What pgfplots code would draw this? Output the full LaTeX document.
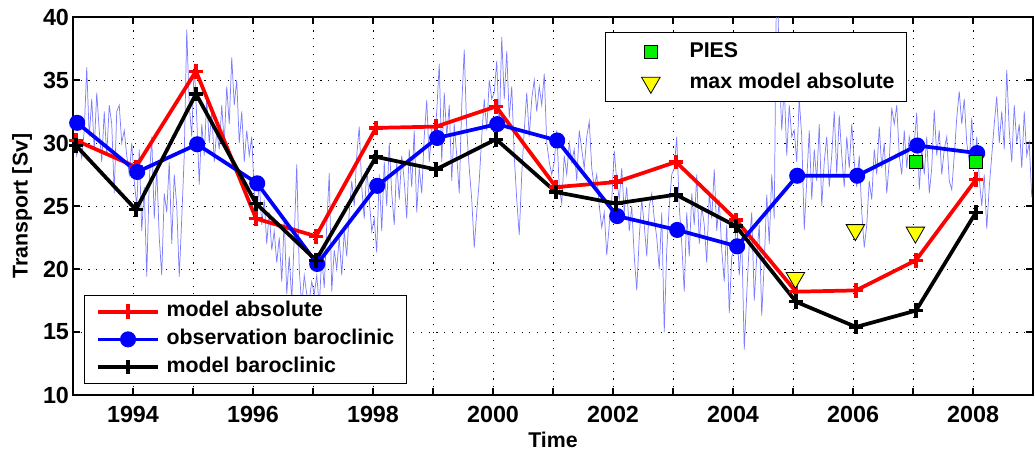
\documentclass[border=0pt]{standalone}
\usepackage{pgfplots}
\pgfplotsset{compat=1.18}
\usepackage{pgfplotstable}
\usepackage{fontspec}
\setmainfont{Liberation Sans}
\definecolor{noiseblue}{RGB}{125,125,255}
\definecolor{piesgreen}{RGB}{0,240,0}
\definecolor{maxyellow}{RGB}{255,255,0}
\tikzset{bigfont/.style={font=\bfseries\fontsize{16}{19}\selectfont},
  tickfont/.style={font=\bfseries\fontsize{17.5}{20}\selectfont}}

\pgfplotstableread{
year abs obs baro
1993 30.2 31.6 29.8
1994 28.1 27.7 24.7
1995 35.7 29.9 33.9
1996 24.0 26.8 25.2
1997 22.6 20.4 20.7
1998 31.2 26.6 28.9
1999 31.3 30.4 27.9
2000 32.9 31.5 30.3
2001 26.5 30.2 26.1
2002 26.9 24.2 25.2
2003 28.5 23.1 25.9
2004 23.9 21.8 23.4
2005 18.2 27.4 17.4
2006 18.3 27.4 15.4
2007 20.7 29.8 16.7
2008 27.1 29.2 24.5
}\yearly

\pgfplotstableread[header=false,row sep=\\]{
30.5\\29.0\\30.0\\28.8\\31.0\\36.0\\30.5\\33.5\\29.5\\34.0\\31.0\\28.5\\32.5\\29.0\\33.0\\31.5\\26.0\\32.5\\33.0\\30.0\\31.0\\29.0\\27.5\\30.0\\
27.0\\25.0\\29.5\\23.0\\26.5\\19.4\\27.0\\30.5\\24.0\\28.0\\22.5\\19.5\\26.0\\24.5\\28.5\\22.0\\27.5\\25.0\\19.4\\24.0\\29.0\\39.0\\33.0\\30.5\\
36.3\\32.0\\26.7\\31.5\\29.0\\33.5\\30.0\\32.5\\28.5\\31.0\\29.5\\33.0\\30.0\\34.5\\31.5\\36.8\\33.0\\35.0\\30.0\\32.5\\28.5\\31.0\\29.0\\30.5\\
26.0\\24.0\\27.0\\23.5\\25.5\\22.0\\24.5\\21.5\\23.0\\20.5\\22.5\\19.0\\24.0\\18.0\\21.0\\17.5\\22.5\\28.3\\20.0\\17.0\\19.5\\18.0\\17.5\\19.0\\
18.0\\19.5\\17.0\\21.0\\18.5\\23.5\\27.6\\18.2\\21.5\\20.0\\22.5\\19.5\\23.0\\21.0\\24.5\\27.0\\25.0\\29.0\\31.3\\26.5\\24.0\\28.0\\25.5\\23.0\\
24.0\\21.3\\27.5\\23.0\\28.5\\25.0\\30.0\\26.0\\23.5\\28.5\\25.5\\29.0\\27.0\\24.0\\29.5\\26.5\\31.0\\24.5\\28.0\\26.0\\30.5\\33.4\\28.5\\31.0\\
30.0\\32.5\\36.3\\28.5\\34.0\\30.5\\33.0\\27.0\\31.5\\29.0\\26.0\\33.0\\37.4\\31.0\\28.0\\25.5\\21.7\\24.5\\27.0\\30.5\\33.5\\31.0\\35.0\\33.5\\
34.0\\36.5\\31.0\\38.4\\33.5\\37.3\\32.0\\34.5\\29.0\\25.5\\22.7\\27.5\\31.0\\34.0\\30.5\\33.5\\35.0\\32.5\\34.5\\33.0\\35.5\\30.0\\28.5\\27.5\\
28.5\\31.0\\26.5\\25.2\\29.0\\27.5\\30.0\\28.5\\29.5\\27.0\\31.0\\29.5\\28.0\\30.5\\31.7\\28.0\\26.5\\27.5\\25.0\\23.3\\24.5\\21.1\\23.5\\25.5\\
29.4\\27.0\\25.5\\28.0\\24.5\\26.5\\23.0\\25.0\\21.0\\18.3\\22.5\\25.5\\23.5\\21.0\\25.0\\26.0\\24.0\\22.5\\20.0\\24.5\\15.0\\21.5\\25.0\\27.5\\
28.0\\30.5\\25.0\\22.0\\18.2\\24.5\\21.0\\26.0\\23.5\\27.5\\22.0\\25.0\\23.5\\20.5\\26.0\\24.0\\27.9\\23.0\\25.5\\21.5\\19.0\\23.5\\16.5\\21.0\\
21.5\\24.0\\19.5\\22.5\\13.6\\18.0\\22.0\\24.5\\17.5\\21.0\\23.5\\16.3\\20.5\\25.9\\22.0\\27.5\\24.0\\45.0\\36.0\\31.0\\34.5\\29.0\\33.0\\30.5\\
31.0\\28.5\\33.5\\30.5\\23.1\\27.0\\31.0\\25.5\\29.5\\27.0\\31.5\\25.0\\28.5\\30.5\\26.5\\29.0\\32.5\\27.5\\32.2\\29.0\\26.5\\30.5\\28.0\\31.5\\
28.5\\26.5\\29.0\\24.5\\21.7\\23.5\\27.0\\25.5\\29.5\\27.5\\31.3\\28.0\\30.0\\26.0\\28.5\\32.8\\31.5\\33.0\\29.0\\27.5\\31.0\\28.0\\30.5\\29.5\\
30.0\\32.4\\26.3\\29.5\\27.5\\30.5\\26.0\\28.0\\32.6\\29.0\\31.0\\27.5\\29.5\\30.5\\27.0\\26.3\\29.0\\32.0\\34.1\\31.5\\33.5\\30.0\\28.5\\32.0\\
28.0\\30.5\\27.2\\25.0\\27.5\\23.2\\26.5\\29.0\\31.5\\33.7\\30.0\\32.5\\29.5\\35.8\\31.0\\28.5\\33.0\\30.0\\31.5\\28.0\\32.5\\29.0\\30.0\\25.7\\
}\noise

\begin{document}
\begin{tikzpicture}
\pgfplotsset{
  common/.style={
    scale only axis, width=720pt, height=283.5pt,
    xmin=1993, xmax=2009, ymin=10, ymax=40,
  },
}
\begin{axis}[common, name=ax,
  xtick={1994,1996,...,2008},
  minor xtick={1993,1995,...,2009},
  ytick={10,15,...,40},
  grid=both,
  major grid style={black, line width=0.7pt, dash pattern=on 0.8pt off 5pt},
  minor grid style={black, line width=0.7pt, dash pattern=on 0.8pt off 5pt},
  tick align=inside,
  major tick length=5pt, minor tick length=5pt,
  tick style={black, line width=0.9pt},
  minor tick style={black, line width=0.9pt},
  axis line style={line width=1.1pt},
  tick label style={tickfont},
  /pgf/number format/assume math mode=true,
  /pgf/number format/1000 sep={},
  xticklabel style={yshift=-5pt},
  yticklabel style={xshift=0.5pt},
  xlabel={Time}, ylabel={Transport [Sv]},
  label style={bigfont},
  xlabel style={at={(axis description cs:0.5,-0.119)}, anchor=center},
  ylabel style={at={(axis description cs:-0.053,0.5)}, anchor=center},
  legend cell align=left,
  legend style={at={(0.0115,0.029)}, anchor=south west, draw=black, line width=1pt,
    fill=white, inner xsep=4pt, inner ysep=2.7pt, row sep=1.8pt, bigfont,
    nodes={inner xsep=5pt, inner ysep=2pt, text height=11.5pt, text depth=3.5pt}},
  legend image code/.code={\path[draw=none] (0pt,0pt) -- (52pt,0pt);
    \draw[mark repeat=2,mark phase=2] plot coordinates {(6pt,0pt) (28.5pt,0pt) (51pt,0pt)};},
]
\addplot[noiseblue, line width=0.55pt, forget plot]
  table[x expr={1993+(\coordindex+0.5)/24}, y index=0] {\noise};
\addplot[red, line width=2.8pt, mark=+, mark size=5.5pt, mark options={line width=2.5pt}]
  table[x expr={\thisrow{year}+0.05}, y=abs] {\yearly};
\addlegendentry{model absolute}
\addplot[blue, line width=2.8pt, mark=*, mark size=4.6pt]
  table[x expr={\thisrow{year}+0.07}, y=obs] {\yearly};
\addlegendentry{observation baroclinic}
\addplot[black, line width=2.8pt, mark=+, mark size=5.5pt, mark options={line width=2.5pt}]
  table[x expr={\thisrow{year}+0.05}, y=baro] {\yearly};
\addlegendentry{model baroclinic}
\end{axis}

\begin{axis}[common, hide axis, at={(ax.south west)}, anchor=south west,
  legend cell align=left,
  legend style={at={(0.554,0.9603)}, anchor=north west, draw=black, line width=1pt,
    fill=white, inner xsep=4pt, inner ysep=4.75pt, row sep=4.25pt, bigfont,
    nodes={inner xsep=5pt, inner ysep=2pt, text height=11.5pt, text depth=3.5pt}},
  legend image code/.code={\path[draw=none] (0pt,0pt) -- (54pt,0pt);
    \draw plot coordinates {(30pt,0pt)};},
]
\addplot[only marks, mark=square*, mark size=5pt,
  mark options={fill=piesgreen, draw=black, line width=0.6pt}]
  coordinates {(2007.05,28.5) (2008.05,28.5)};
\addlegendentry{PIES}
\addplot[only marks, mark=triangle*, mark size=8pt,
  mark options={fill=maxyellow, draw=black, line width=0.6pt, rotate=180}]
  coordinates {(2005.04,19.3) (2006.04,23.1) (2007.04,22.9)};
\addlegendentry{max model absolute\hspace{8pt}}
\end{axis}

\path (ax.south west) ++(-54.75pt,-42pt) coordinate (bl);
\path (ax.north east) ++(1.5pt,12.75pt) coordinate (tr);
\path (bl) rectangle (tr);
\end{tikzpicture}
\end{document}
